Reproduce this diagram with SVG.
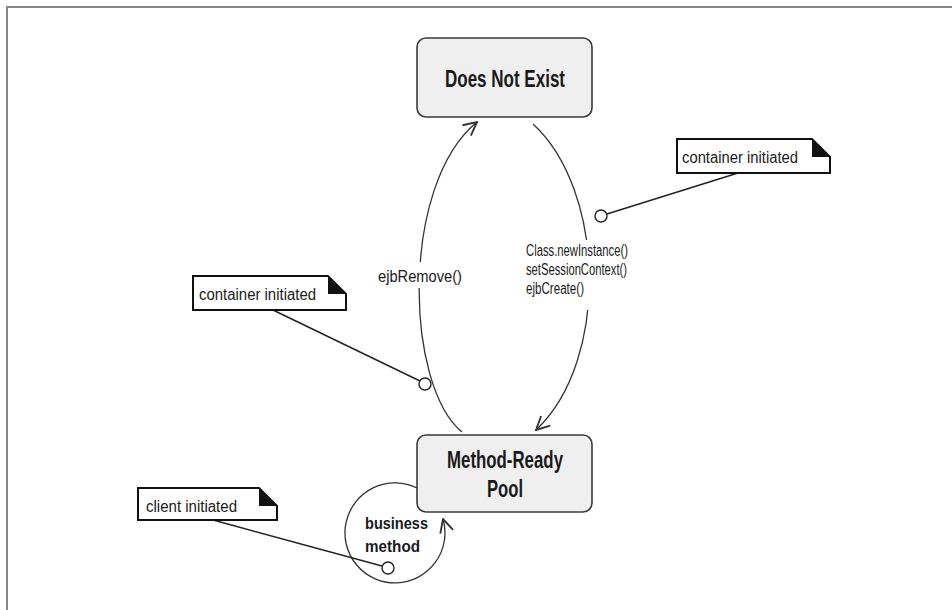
<svg xmlns="http://www.w3.org/2000/svg" width="952" height="610" viewBox="0 0 952 610">
<style>
.state{fill:#efefef;stroke:#3a3a3a;stroke-width:1.6}
.big{font-family:"Liberation Sans",Arial,sans-serif;font-size:24px;font-weight:bold;fill:#1a1a1a}
.lbl{font-family:"Liberation Sans",Arial,sans-serif;font-size:16px;fill:#1a1a1a}
.bold{font-family:"Liberation Sans",Arial,sans-serif;font-size:17px;font-weight:bold;fill:#1a1a1a}
.note{fill:#fff;stroke:#111;stroke-width:2}
.ear{fill:#111}
.conn{fill:none;stroke:#333;stroke-width:1.3}
.lead{fill:none;stroke:#222;stroke-width:1.5}
.pin{fill:#fff;stroke:#222;stroke-width:1.4}
</style>
<defs>
<marker id="arr" markerUnits="userSpaceOnUse" markerWidth="16" markerHeight="16" viewBox="0 0 12 12" refX="11" refY="6" orient="auto">
<path d="M1,1 L11,6 L1,11" fill="none" stroke="#333" stroke-width="1.4"/>
</marker>
</defs>
<rect width="952" height="610" fill="#fff"/>
<path d="M7,610 V7 H952" fill="none" stroke="#888" stroke-width="2"/>

<g id="connectors">
<path class="conn" d="M462,432 C405,385 400,185 477,122" marker-end="url(#arr)"/>
<path class="conn" d="M533,124 C605,190 610,360 536,430" marker-end="url(#arr)"/>
<path class="conn" d="M417,488 A50,50 0 1 0 443,519" marker-end="url(#arr)"/>
</g>

<g id="label-ejbRemove">
<rect x="376" y="262" width="88" height="26" fill="#fff"/>
<text class="lbl" x="378" y="282" textLength="84" lengthAdjust="spacingAndGlyphs">ejbRemove()</text>
</g>
<g id="label-create">
<rect x="524" y="240" width="108" height="70" fill="#fff"/>
<text class="lbl" x="526" y="256" textLength="102" lengthAdjust="spacingAndGlyphs">Class.newInstance()</text>
<text class="lbl" x="526" y="275" textLength="101" lengthAdjust="spacingAndGlyphs">setSessionContext()</text>
<text class="lbl" x="526" y="294" textLength="58" lengthAdjust="spacingAndGlyphs">ejbCreate()</text>
</g>

<g id="does-not-exist">
<rect class="state" x="417" y="38" width="175" height="79" rx="9"/>
<text class="big" x="445" y="87" textLength="120" lengthAdjust="spacingAndGlyphs">Does Not  Exist</text>
</g>

<g id="method-ready-pool">
<rect class="state" x="417" y="435" width="175" height="77" rx="9"/>
<text class="big" x="447" y="468" textLength="116" lengthAdjust="spacingAndGlyphs">Method-Ready</text>
<text class="big" x="487" y="497" textLength="36" lengthAdjust="spacingAndGlyphs">Pool</text>
</g>

<g id="business-method">
<text class="bold" x="365" y="529" textLength="63" lengthAdjust="spacingAndGlyphs">business</text>
<text class="bold" x="365" y="552" textLength="55" lengthAdjust="spacingAndGlyphs">method</text>
</g>

<g id="note-container-right">
<path class="lead" d="M738,173 L607,214"/>
<circle class="pin" cx="601" cy="216" r="6"/>
<path class="note" d="M677,139 H812 L830,157 V173 H677 Z"/>
<path class="ear" d="M812,139 L830,157 H812 Z"/>
<text class="lbl" x="682" y="163" textLength="116" lengthAdjust="spacingAndGlyphs">container initiated</text>
</g>

<g id="note-container-left">
<path class="lead" d="M273,310 L420,381"/>
<circle class="pin" cx="425" cy="384" r="6"/>
<path class="note" d="M193,276 H328 L346,294 V310 H193 Z"/>
<path class="ear" d="M328,276 L346,294 H328 Z"/>
<text class="lbl" x="199" y="300" textLength="117" lengthAdjust="spacingAndGlyphs">container initiated</text>
</g>

<g id="note-client">
<path class="lead" d="M213,520 L382,566"/>
<circle class="pin" cx="388" cy="568" r="6"/>
<path class="note" d="M138,488 H259 L277,506 V520 H138 Z"/>
<path class="ear" d="M259,488 L277,506 H259 Z"/>
<text class="lbl" x="146" y="512" textLength="91" lengthAdjust="spacingAndGlyphs">client initiated</text>
</g>
</svg>
